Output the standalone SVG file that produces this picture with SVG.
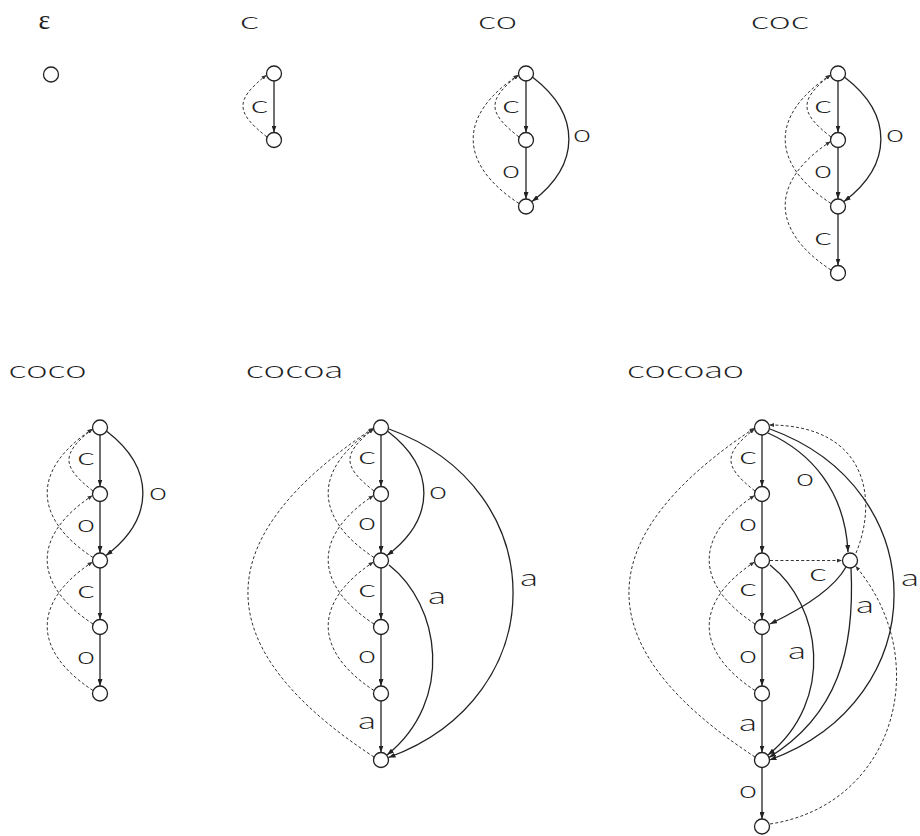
<svg xmlns="http://www.w3.org/2000/svg" width="920" height="836" viewBox="0 0 920 836">
<style>
  .n { fill: #fff; stroke: #222; stroke-width: 1.3; }
  .s { fill: none; stroke: #222; stroke-width: 1.3; marker-end: url(#ah); }
  .d { fill: none; stroke: #333; stroke-width: 1; stroke-dasharray: 3 2.2; marker-end: url(#ad); }
  .t { font-family: Lato, "DejaVu Sans", sans-serif; font-weight: 300; font-size: 24px; fill: #222; text-anchor: middle; }
  .l { font-family: Lato, "DejaVu Sans", sans-serif; font-weight: 300; font-size: 24px; fill: #222; text-anchor: middle; }
  .e { font-family: "Liberation Serif", serif; font-size: 28px; fill: #222; text-anchor: middle; }
</style>
<defs>
  <marker id="ah" viewBox="0 0 7 5" refX="7" refY="2.5" markerWidth="7" markerHeight="5" orient="auto" markerUnits="userSpaceOnUse"><path d="M0,0 L7,2.5 L0,5 z" fill="#222"/></marker>
  <marker id="ad" viewBox="0 0 5 4" refX="5" refY="2" markerWidth="5" markerHeight="4" orient="auto" markerUnits="userSpaceOnUse"><path d="M0,0 L5,2 L0,4 z" fill="#333"/></marker>
</defs>

<g id="titles">
  <text class="e" x="44.5" y="28.5">ε</text>
  <text class="t" x="249.5" y="29" textLength="19.5" lengthAdjust="spacingAndGlyphs">c</text>
  <text class="t" x="497.5" y="29" textLength="39" lengthAdjust="spacingAndGlyphs">co</text>
  <text class="t" x="780" y="29" textLength="58.5" lengthAdjust="spacingAndGlyphs">coc</text>
  <text class="t" x="47.5" y="378" textLength="78" lengthAdjust="spacingAndGlyphs">coco</text>
  <text class="t" x="294.5" y="377.5" textLength="97.5" lengthAdjust="spacingAndGlyphs">cocoa</text>
  <text class="t" x="685.5" y="377.5" textLength="117" lengthAdjust="spacingAndGlyphs">cocoao</text>
</g>

<g id="connectors">
  <!-- c -->
  <path class="s" d="M274,81 L274,132.5"/>
  <path class="d" d="M267,137 C235,112 235,100 266.5,75"/>
  <!-- co -->
  <path class="s" d="M526,81 L526,132.5"/>
  <path class="s" d="M526,147.5 L526,199"/>
  <path class="s" d="M533,77.5 C581,114.5 581,164.5 532,201.5"/>
  <path class="d" d="M519,137 C487,112 487,100 518.5,75"/>
  <path class="d" d="M519,203.5 C458,163.5 458,115 518.5,75"/>
  <!-- coc -->
  <path class="s" d="M838,81 L838,132.5"/>
  <path class="s" d="M838,147.5 L838,199"/>
  <path class="s" d="M838,214 L838,265.5"/>
  <path class="s" d="M845,77.5 C893,114.5 893,164.5 844,201.5"/>
  <path class="d" d="M831,137 C799,112 799,100 830.5,75"/>
  <path class="d" d="M831,203.5 C770,163.5 770,115 830.5,75"/>
  <path class="d" d="M831,270 C770,230 770,181.5 830.5,141.5"/>
  <!-- coco -->
  <path class="s" d="M100,435 L100,486.5"/>
  <path class="s" d="M100,501.5 L100,553"/>
  <path class="s" d="M100,568 L100,619.5"/>
  <path class="s" d="M100,634.5 L100,686"/>
  <path class="s" d="M107,431.5 C155,468.5 155,518.5 106,555.5"/>
  <path class="d" d="M93,491 C61,466 61,454 92.5,429"/>
  <path class="d" d="M93,557.5 C32,517.5 32,469 92.5,429"/>
  <path class="d" d="M93,624 C32,584 32,535.5 92.5,495.5"/>
  <path class="d" d="M93,690.5 C32,650.5 32,602 92.5,562"/>
  <!-- cocoa -->
  <path class="s" d="M381,435 L381,486.5"/>
  <path class="s" d="M381,501.5 L381,553"/>
  <path class="s" d="M381,568 L381,619.5"/>
  <path class="s" d="M381,634.5 L381,686"/>
  <path class="s" d="M381,701 L381,752.5"/>
  <path class="s" d="M388,431.5 C436,468.5 436,518.5 387,555.5"/>
  <path class="s" d="M389,565 C440,605 455,700 387,755"/>
  <path class="s" d="M389,429 C554.5,489 554.5,697 388.5,757.5"/>
  <path class="d" d="M374,491 C342,466 342,454 373.5,429"/>
  <path class="d" d="M374,557.5 C313,517.5 313,469 373.5,429"/>
  <path class="d" d="M374,624 C313,584 313,535.5 373.5,495.5"/>
  <path class="d" d="M374,690.5 C313,650.5 313,602 373.5,562"/>
  <path class="d" d="M374,757 C206,647 206,539 373.5,428"/>
  <!-- cocoao -->
  <path class="s" d="M762,435 L762,486.5"/>
  <path class="s" d="M762,501.5 L762,553"/>
  <path class="s" d="M762,568 L762,619.5"/>
  <path class="s" d="M762,634.5 L762,686"/>
  <path class="s" d="M762,701 L762,752.5"/>
  <path class="s" d="M762,767.5 L762,819"/>
  <path class="s" d="M768,433 C810,452 845,490 848,552"/>
  <path class="s" d="M846,567 C832,592 795,612 770,624"/>
  <path class="s" d="M851,568 C855,650 838,715 769,757.5"/>
  <path class="s" d="M770,565 C821,605 836,700 768,755"/>
  <path class="s" d="M770,429 C935.5,489 935.5,700 769.5,760"/>
  <path class="d" d="M755,491 C723,466 723,454 754.5,429"/>
  <path class="d" d="M755,624 C694,584 694,535.5 754.5,495.5"/>
  <path class="d" d="M755,690.5 C694,650.5 694,602 754.5,562"/>
  <path class="d" d="M755,757 C587,647 587,539 754.5,428"/>
  <path class="d" d="M770,560.5 L842,560.5"/>
  <path class="d" d="M856,553 C878,500 868,425 769,425"/>
  <path class="d" d="M770,824 C895,805 935,660 855.5,566"/>
</g>

<g id="labels">
  <text class="l" x="259.5" y="112.5" textLength="18" lengthAdjust="spacingAndGlyphs">c</text>
  <text class="l" x="511" y="112.5" textLength="18" lengthAdjust="spacingAndGlyphs">c</text>
  <text class="l" x="511" y="178" textLength="18" lengthAdjust="spacingAndGlyphs">o</text>
  <text class="l" x="582" y="142" textLength="18" lengthAdjust="spacingAndGlyphs">o</text>
  <text class="l" x="823" y="112.5" textLength="18" lengthAdjust="spacingAndGlyphs">c</text>
  <text class="l" x="823" y="178" textLength="18" lengthAdjust="spacingAndGlyphs">o</text>
  <text class="l" x="823" y="244.5" textLength="18" lengthAdjust="spacingAndGlyphs">c</text>
  <text class="l" x="895" y="142" textLength="18" lengthAdjust="spacingAndGlyphs">o</text>

  <text class="l" x="86" y="465" textLength="18" lengthAdjust="spacingAndGlyphs">c</text>
  <text class="l" x="86" y="532" textLength="18" lengthAdjust="spacingAndGlyphs">o</text>
  <text class="l" x="86" y="598" textLength="18" lengthAdjust="spacingAndGlyphs">c</text>
  <text class="l" x="86" y="664" textLength="18" lengthAdjust="spacingAndGlyphs">o</text>
  <text class="l" x="158" y="500" textLength="18" lengthAdjust="spacingAndGlyphs">o</text>

  <text class="l" x="367" y="464" textLength="18" lengthAdjust="spacingAndGlyphs">c</text>
  <text class="l" x="367" y="530" textLength="18" lengthAdjust="spacingAndGlyphs">o</text>
  <text class="l" x="367" y="597" textLength="18" lengthAdjust="spacingAndGlyphs">c</text>
  <text class="l" x="367" y="663" textLength="18" lengthAdjust="spacingAndGlyphs">o</text>
  <text class="l" x="367" y="729" textLength="18" lengthAdjust="spacingAndGlyphs">a</text>
  <text class="l" x="438" y="499" textLength="18" lengthAdjust="spacingAndGlyphs">o</text>
  <text class="l" x="437" y="604" textLength="18" lengthAdjust="spacingAndGlyphs">a</text>
  <text class="l" x="529" y="586" textLength="18" lengthAdjust="spacingAndGlyphs">a</text>

  <text class="l" x="748" y="464" textLength="18" lengthAdjust="spacingAndGlyphs">c</text>
  <text class="l" x="748" y="531" textLength="18" lengthAdjust="spacingAndGlyphs">o</text>
  <text class="l" x="748" y="596" textLength="18" lengthAdjust="spacingAndGlyphs">c</text>
  <text class="l" x="748" y="663" textLength="18" lengthAdjust="spacingAndGlyphs">o</text>
  <text class="l" x="748" y="731" textLength="18" lengthAdjust="spacingAndGlyphs">a</text>
  <text class="l" x="748" y="798" textLength="18" lengthAdjust="spacingAndGlyphs">o</text>
  <text class="l" x="805" y="486" textLength="18" lengthAdjust="spacingAndGlyphs">o</text>
  <text class="l" x="818" y="581" textLength="18" lengthAdjust="spacingAndGlyphs">c</text>
  <text class="l" x="865" y="613" textLength="18" lengthAdjust="spacingAndGlyphs">a</text>
  <text class="l" x="797" y="659" textLength="18" lengthAdjust="spacingAndGlyphs">a</text>
  <text class="l" x="910" y="586" textLength="18" lengthAdjust="spacingAndGlyphs">a</text>
</g>

<g id="eps-0"><circle class="n" cx="51" cy="74.5" r="7.5"/></g>

<g id="c-0"><circle class="n" cx="274" cy="73.5" r="7.5"/></g>
<g id="c-1"><circle class="n" cx="274" cy="140" r="7.5"/></g>

<g id="co-0"><circle class="n" cx="526" cy="73.5" r="7.5"/></g>
<g id="co-1"><circle class="n" cx="526" cy="140" r="7.5"/></g>
<g id="co-2"><circle class="n" cx="526" cy="206.5" r="7.5"/></g>

<g id="coc-0"><circle class="n" cx="838" cy="73.5" r="7.5"/></g>
<g id="coc-1"><circle class="n" cx="838" cy="140" r="7.5"/></g>
<g id="coc-2"><circle class="n" cx="838" cy="206.5" r="7.5"/></g>
<g id="coc-3"><circle class="n" cx="838" cy="273" r="7.5"/></g>

<g id="coco-0"><circle class="n" cx="100" cy="427.5" r="7.5"/></g>
<g id="coco-1"><circle class="n" cx="100" cy="494" r="7.5"/></g>
<g id="coco-2"><circle class="n" cx="100" cy="560.5" r="7.5"/></g>
<g id="coco-3"><circle class="n" cx="100" cy="627" r="7.5"/></g>
<g id="coco-4"><circle class="n" cx="100" cy="693.5" r="7.5"/></g>

<g id="cocoa-0"><circle class="n" cx="381" cy="427.5" r="7.5"/></g>
<g id="cocoa-1"><circle class="n" cx="381" cy="494" r="7.5"/></g>
<g id="cocoa-2"><circle class="n" cx="381" cy="560.5" r="7.5"/></g>
<g id="cocoa-3"><circle class="n" cx="381" cy="627" r="7.5"/></g>
<g id="cocoa-4"><circle class="n" cx="381" cy="693.5" r="7.5"/></g>
<g id="cocoa-5"><circle class="n" cx="381" cy="760" r="7.5"/></g>

<g id="cocoao-0"><circle class="n" cx="762" cy="427.5" r="7.5"/></g>
<g id="cocoao-1"><circle class="n" cx="762" cy="494" r="7.5"/></g>
<g id="cocoao-2"><circle class="n" cx="762" cy="560.5" r="7.5"/></g>
<g id="cocoao-o"><circle class="n" cx="850" cy="560.5" r="7.5"/></g>
<g id="cocoao-3"><circle class="n" cx="762" cy="627" r="7.5"/></g>
<g id="cocoao-4"><circle class="n" cx="762" cy="693.5" r="7.5"/></g>
<g id="cocoao-5"><circle class="n" cx="762" cy="760" r="7.5"/></g>
<g id="cocoao-6"><circle class="n" cx="762" cy="826.5" r="7.5"/></g>
</svg>
